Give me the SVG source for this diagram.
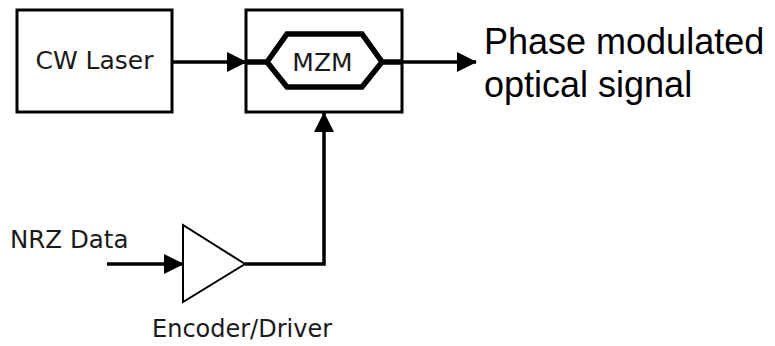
<svg xmlns="http://www.w3.org/2000/svg" width="775" height="346" viewBox="0 0 775 346">
<defs>
<style>
.box{fill:#fff;stroke:#000;stroke-width:3}
.lbl{font-family:"DejaVu Sans",Verdana,sans-serif;fill:#1a1a1a}
.big{font-family:"Liberation Sans",Arial,sans-serif;font-size:36px;fill:#000}
.wire{stroke:#000;stroke-width:3.5;fill:none}
.hex{stroke:#000;stroke-width:5.5;fill:none;stroke-linejoin:miter}
</style>
<marker id="ah" markerUnits="userSpaceOnUse" markerWidth="20" markerHeight="22" refX="19" refY="10" orient="auto" viewBox="0 0 20 20">
<path d="M0,0 L20,10 L0,20 Z" fill="#000"/>
</marker>
</defs>
<rect width="775" height="346" fill="#fff"/>
<g id="laser">
<rect class="box" x="17" y="10" width="155" height="102"/>
<text class="lbl" x="94.5" y="69" font-size="25" text-anchor="middle">CW Laser</text>
</g>
<g id="mzm">
<rect class="box" x="246" y="10" width="156" height="102"/>
<path class="hex" d="M246,62 H267 L287,34 H362 L382,62 L362,87 H287 L267,62 M382,62 H402"/>
<text class="lbl" x="322.5" y="71" font-size="25" text-anchor="middle">MZM</text>
</g>
<g id="driver">
<polygon points="183,225 183,302 245,264" fill="#fff" stroke="#000" stroke-width="2"/>
<text class="lbl" x="152" y="337" font-size="24">Encoder/Driver</text>
</g>
<g id="input">
<text class="lbl" x="10" y="248" font-size="24.5">NRZ Data</text>
</g>
<g id="output">
<text class="big" x="484" y="54">Phase modulated</text>
<text class="big" x="484" y="97">optical signal</text>
</g>
<g id="connectors">
<line class="wire" x1="172" y1="62" x2="246" y2="62" marker-end="url(#ah)"/>
<line class="wire" x1="402" y1="62" x2="476" y2="62" marker-end="url(#ah)"/>
<line class="wire" x1="107" y1="264" x2="183" y2="264" marker-end="url(#ah)"/>
<polyline class="wire" points="245,264 324,264 324,113" marker-end="url(#ah)"/>
</g>
</svg>
